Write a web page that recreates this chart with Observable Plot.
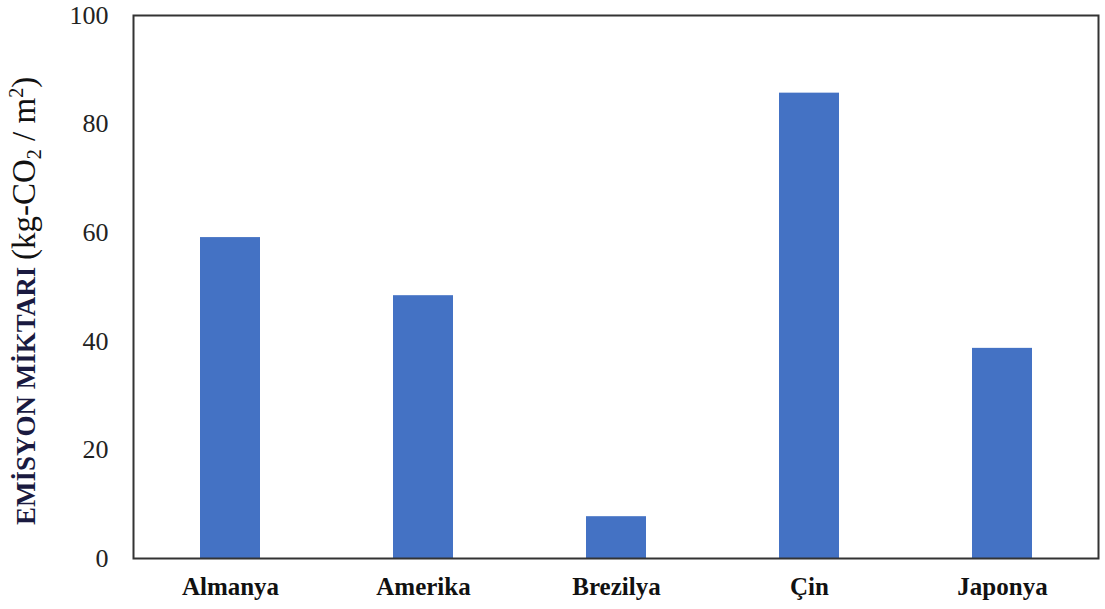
<!DOCTYPE html>
<html>
<head>
<meta charset="utf-8">
<script src="https://cdn.jsdelivr.net/npm/d3@7"></script>
<script src="https://cdn.jsdelivr.net/npm/@observablehq/plot@0.6"></script>
<style>
  html, body { margin: 0; padding: 0; background: #fff; }
  #chart svg { display: block; }
</style>
</head>
<body>
<div id="chart"></div>
<script>
const countries = ["Almanya", "Amerika", "Brezilya", "Çin", "Japonya"];
const emissions = [59.1, 48.4, 7.7, 85.7, 38.7];
const yTicks = [0, 20, 40, 60, 80, 100];

const data = countries.map((c, i) => ({country: c, value: emissions[i]}));

const chart = Plot.plot({
  width: 1105,
  height: 609,
  marginLeft: 133,
  marginRight: 7,
  marginTop: 15,
  marginBottom: 51,
  style: {fontFamily: "'Liberation Serif', 'Times New Roman', serif", background: "#fff"},
  x: {domain: countries, paddingInner: 0.69, paddingOuter: 0.345, label: null},
  y: {domain: [0, 100], label: null},
  marks: [
    Plot.barY(data, {x: "country", y: "value", fill: "#4472C4"}),
    Plot.axisY({ticks: yTicks, tickSize: 0, tickPadding: 25, fontSize: 26, fill: "#222", label: null}),
    Plot.axisX({tickSize: 0, tickPadding: 19, fontSize: 25, fontWeight: "bold", fill: "#111", label: null}),
    Plot.frame({stroke: "#333", strokeWidth: 2})
  ]
});

document.getElementById("chart").appendChild(chart);

// Rotated y-axis title with mixed styles
const svg = d3.select(chart);
const t = svg.append("text")
  .attr("transform", "translate(35,525) rotate(-90)")
  .attr("text-anchor", "start")
  .attr("font-family", "'Liberation Serif', 'Times New Roman', serif");
t.append("tspan").attr("font-weight", "bold").attr("font-size", 27).attr("fill", "#1a1a40").text("EMİSYON MİKTARI ");
t.append("tspan").attr("font-size", 33).attr("fill", "#111").text("(kg-CO");
t.append("tspan").attr("font-size", 20).attr("fill", "#111").attr("dy", 6).text("2");
t.append("tspan").attr("font-size", 33).attr("fill", "#111").attr("dy", -6).text(" / m");
t.append("tspan").attr("font-size", 20).attr("fill", "#111").attr("dy", -12).text("2");
t.append("tspan").attr("font-size", 33).attr("fill", "#111").attr("dy", 12).text(")");
</script>
</body>
</html>
